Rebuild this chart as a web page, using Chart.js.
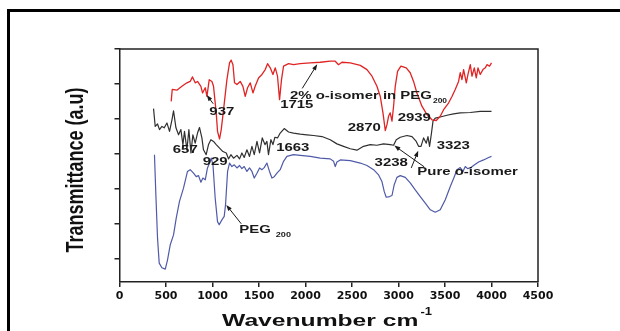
<!DOCTYPE html>
<html>
<head>
<meta charset="utf-8">
<title>FTIR spectra</title>
<script src="https://cdn.jsdelivr.net/npm/chart.js@4.4.1/dist/chart.umd.min.js"></script>
<style>
  html, body { margin: 0; padding: 0; background: #fff; overflow: hidden; }
  #wrap { position: relative; width: 620px; height: 331px; }
  #irChart { display: block; }
</style>
</head>
<body>
<div id="wrap"><canvas id="irChart" width="620" height="331"></canvas></div>
<script>
// 2% o-isomer in PEG200 (red trace)
const mixWn = [556, 567, 617, 671, 725, 760, 785, 814, 839, 875, 893, 922, 940, 965, 994, 1011, 1040, 1054, 1076, 1094,
  1119, 1155, 1183, 1201, 1220, 1237, 1263, 1298, 1327, 1352, 1377, 1406, 1435, 1459, 1495, 1532, 1567, 1592, 1621, 1650,
  1675, 1699, 1721, 1742, 1764, 1818, 1871, 1943, 2051, 2159, 2266, 2320, 2355, 2392, 2481, 2589, 2661, 2715, 2768, 2804,
  2833, 2858, 2876, 2893, 2911, 2930, 2947, 2965, 2990, 3026, 3083, 3126, 3162, 3198, 3252, 3306, 3360, 3406, 3449, 3485,
  3538, 3575, 3610, 3646, 3664, 3682, 3700, 3729, 3747, 3772, 3790, 3815, 3836, 3855, 3879, 3908, 3933, 3951, 3979, 4000];
const mixT = [5.50, 5.84, 5.82, 5.93, 6.03, 6.07, 6.20, 6.03, 6.07, 5.93, 5.74, 5.89, 5.64, 6.12, 6.07, 5.93, 5.17, 4.64, 4.42, 4.69,
  5.26, 6.12, 6.60, 6.68, 6.55, 6.03, 5.98, 6.07, 5.93, 5.64, 5.89, 6.03, 5.74, 5.93, 6.17, 6.27, 6.41, 6.58, 6.46, 6.27,
  6.46, 6.22, 5.55, 6.12, 6.51, 6.58, 6.55, 6.58, 6.60, 6.62, 6.65, 6.65, 6.55, 6.62, 6.60, 6.53, 6.41, 6.22, 5.93, 5.64,
  5.17, 4.66, 4.83, 5.07, 5.17, 4.93, 5.36, 5.93, 6.36, 6.51, 6.46, 6.32, 6.07, 5.74, 5.36, 5.12, 4.97, 4.95, 5.07, 5.26,
  5.45, 5.64, 5.84, 6.07, 6.32, 6.12, 6.41, 6.03, 6.27, 6.55, 6.22, 6.46, 6.17, 6.46, 6.27, 6.41, 6.46, 6.55, 6.51, 6.60];

// pure o-isomer (black trace)
const pureWn = [366, 384, 409, 430, 456, 481, 510, 538, 564, 581, 607, 635, 660, 682, 699, 725, 746, 768, 789, 814,
  839, 860, 886, 903, 932, 957, 983, 1011, 1040, 1076, 1112, 1148, 1172, 1198, 1226, 1263, 1291, 1316, 1341, 1370,
  1398, 1424, 1449, 1478, 1506, 1535, 1564, 1585, 1602, 1628, 1650, 1671, 1699, 1728, 1771, 1818, 1871, 1943, 2015, 2086,
  2177, 2266, 2338, 2409, 2481, 2553, 2624, 2696, 2768, 2839, 2911, 2947, 2976, 3019, 3091, 3145, 3191, 3216, 3242, 3270,
  3299, 3317, 3334, 3352, 3371, 3395, 3449, 3521, 3592, 3664, 3772, 3879, 4000];
const pureT = [5.29, 4.78, 4.85, 4.69, 4.78, 4.74, 4.88, 4.64, 4.97, 5.23, 4.74, 4.54, 4.69, 4.26, 4.64, 4.11, 4.69, 4.02, 4.54, 4.30,
  4.59, 4.75, 4.45, 4.11, 3.97, 4.26, 4.40, 4.35, 4.26, 4.16, 4.06, 4.02, 3.85, 3.97, 3.87, 3.95, 3.85, 4.02, 3.89, 4.11,
  3.92, 4.21, 3.97, 4.35, 4.02, 4.45, 4.26, 4.35, 3.97, 4.40, 4.26, 4.47, 4.45, 4.59, 4.72, 4.62, 4.59, 4.56, 4.54, 4.52,
  4.49, 4.40, 4.28, 4.21, 4.14, 4.10, 4.21, 4.26, 4.24, 4.28, 4.26, 4.24, 4.40, 4.47, 4.52, 4.49, 4.35, 4.21, 4.21, 4.45,
  4.30, 4.49, 4.21, 4.54, 4.93, 5.02, 5.05, 5.10, 5.14, 5.17, 5.18, 5.21, 5.21];

// PEG200 (blue trace)
const pegWn = [376, 391, 409, 427, 456, 492, 516, 545, 581, 610, 645, 688, 731, 760, 796, 825, 850, 875, 897, 922,
  946, 968, 986, 1005, 1029, 1054, 1072, 1101, 1126, 1140, 1162, 1183, 1209, 1234, 1263, 1291, 1316, 1341, 1370, 1398,
  1424, 1449, 1478, 1506, 1532, 1556, 1585, 1613, 1639, 1664, 1693, 1728, 1764, 1800, 1871, 1943, 2051, 2159, 2266, 2302,
  2320, 2338, 2374, 2481, 2589, 2661, 2732, 2786, 2822, 2847, 2868, 2904, 2930, 2954, 2983, 3019, 3073, 3126, 3180, 3234,
  3288, 3342, 3395, 3449, 3503, 3557, 3600, 3629, 3664, 3693, 3718, 3743, 3772, 3807, 3861, 3915, 3969, 4000];
const pegT = [3.97, 2.82, 1.57, 0.86, 0.73, 0.69, 0.95, 1.38, 1.67, 2.15, 2.63, 3.01, 3.49, 3.54, 3.44, 3.34, 3.37, 3.18, 3.30, 3.25,
  3.59, 3.73, 3.87, 3.68, 2.72, 2.05, 1.96, 2.10, 2.20, 2.53, 3.49, 3.73, 3.63, 3.68, 3.59, 3.66, 3.57, 3.63, 3.49, 3.59,
  3.49, 3.30, 3.44, 3.59, 3.54, 3.60, 3.73, 3.49, 3.30, 3.34, 3.44, 3.54, 3.78, 3.92, 3.97, 3.95, 3.92, 3.87, 3.85, 3.78,
  3.63, 3.76, 3.82, 3.80, 3.73, 3.66, 3.54, 3.39, 3.20, 2.91, 2.75, 2.77, 2.80, 3.11, 3.32, 3.37, 3.32, 3.16, 2.96, 2.77,
  2.58, 2.39, 2.32, 2.39, 2.68, 3.06, 3.34, 3.54, 3.60, 3.49, 3.63, 3.57, 3.59, 3.66, 3.76, 3.82, 3.89, 3.92];

const xTicks = [0, 500, 1000, 1500, 2000, 2500, 3000, 3500, 4000, 4500];
const yTicks = [1, 2, 3, 4, 5, 6, 7];

// band labels, placed in wavenumber / transmittance units
const bandLabels = [
  { text: '937', x: 1100, y: 5.21 },
  { text: '1715', x: 1906, y: 5.39 },
  { text: '2870', x: 2632, y: 4.73 },
  { text: '2939', x: 3170, y: 5.03 },
  { text: '657', x: 707, y: 4.11 },
  { text: '929', x: 1029, y: 3.77 },
  { text: '1663', x: 1863, y: 4.17 },
  { text: '3238', x: 2922, y: 3.74 },
  { text: '3323', x: 3589, y: 4.21 }
];

// trace captions (left aligned), optional subscript
const captions = [
  { text: '2% o-isomer in PEG', sub: '200', x: 1832, y: 5.66, subSize: 6.5, gap: 1 },
  { text: 'Pure o-isomer', x: 3202, y: 3.48 },
  { text: 'PEG', sub: '200', x: 1287, y: 1.81, subSize: 7, gap: 5 }
];

// leader arrows: from label towards the band
const arrows = [
  { from: [1008, 5.43], to: [938, 5.68] },
  { from: [1965, 5.87], to: [2126, 6.56] },
  { from: [3277, 3.62], to: [2955, 4.23] },
  { from: [3137, 3.59], to: [3212, 4.08] },
  { from: [1309, 1.99], to: [1148, 2.53] }
];

const TEXT_FONT = '"Liberation Sans", Arial, sans-serif';
const STRETCH = 1.3;

function wideText(ctx, str, x, y, size, sx, align) {
  ctx.save();
  ctx.font = 'bold ' + size + 'px ' + TEXT_FONT;
  ctx.translate(x, y);
  ctx.scale(sx, 1);
  ctx.textAlign = align;
  ctx.textBaseline = 'middle';
  ctx.fillText(str, 0, 0);
  const w = ctx.measureText(str).width * sx;
  ctx.restore();
  return w;
}

function arrow(ctx, x0, y0, x1, y1) {
  const ang = Math.atan2(y1 - y0, x1 - x0);
  const len = 6, half = 2.2;
  ctx.beginPath();
  ctx.moveTo(x0, y0);
  ctx.lineTo(x1 - Math.cos(ang) * len * 0.6, y1 - Math.sin(ang) * len * 0.6);
  ctx.stroke();
  ctx.beginPath();
  ctx.moveTo(x1, y1);
  ctx.lineTo(x1 - Math.cos(ang) * len - Math.sin(ang) * half, y1 - Math.sin(ang) * len + Math.cos(ang) * half);
  ctx.lineTo(x1 - Math.cos(ang) * len + Math.sin(ang) * half, y1 - Math.sin(ang) * len - Math.cos(ang) * half);
  ctx.closePath();
  ctx.fill();
}

const spectrumDecor = {
  id: 'spectrumDecor',
  beforeDraw(chart) {
    const ctx = chart.ctx;
    ctx.save();
    ctx.fillStyle = '#fff';
    ctx.fillRect(0, 0, chart.width, chart.height);
    // outer frame, left and top edges
    ctx.fillStyle = '#000';
    ctx.fillRect(7, 9, 3, chart.height);
    ctx.fillRect(7, 9, chart.width, 3);
    ctx.restore();
  },
  afterDraw(chart) {
    const ctx = chart.ctx;
    const a = chart.chartArea;
    const xs = chart.scales.x, ys = chart.scales.y;

    ctx.save();
    ctx.strokeStyle = '#222';
    ctx.lineWidth = 1.5;
    ctx.beginPath();
    ctx.moveTo(a.left, a.top);
    ctx.lineTo(a.right, a.top);
    ctx.lineTo(a.right, a.bottom);
    ctx.stroke();

    ctx.fillStyle = '#1a1a1a';
    ctx.strokeStyle = '#1a1a1a';
    ctx.lineWidth = 1;
    arrows.forEach(ar => {
      arrow(ctx, xs.getPixelForValue(ar.from[0]), ys.getPixelForValue(ar.from[1]),
        xs.getPixelForValue(ar.to[0]), ys.getPixelForValue(ar.to[1]));
    });

    bandLabels.forEach(l => {
      wideText(ctx, l.text, xs.getPixelForValue(l.x), ys.getPixelForValue(l.y), 11.5, STRETCH, 'center');
    });

    captions.forEach(c => {
      const px = xs.getPixelForValue(c.x), py = ys.getPixelForValue(c.y);
      const w = wideText(ctx, c.text, px, py, 11.5, STRETCH, 'left');
      if (c.sub) {
        wideText(ctx, c.sub, px + w + c.gap, py + 5.5, c.subSize, STRETCH, 'left');
      }
    });

    // axis titles
    ctx.save();
    ctx.translate(a.left - 43, 170);
    ctx.rotate(-Math.PI / 2);
    ctx.scale(1, 1.35);
    ctx.font = 'bold 18px ' + TEXT_FONT;
    ctx.textAlign = 'center';
    ctx.textBaseline = 'middle';
    ctx.fillStyle = '#111';
    ctx.fillText('Transmittance (a.u)', 0, 0);
    ctx.restore();

    ctx.save();
    ctx.font = 'bold 17px ' + TEXT_FONT;
    const mainW = ctx.measureText('Wavenumber cm').width * 1.45;
    ctx.font = 'bold 10px ' + TEXT_FONT;
    const supW = ctx.measureText('-1').width * 1.3;
    ctx.restore();
    const left = 327 - (mainW + supW + 2) / 2;
    ctx.fillStyle = '#111';
    wideText(ctx, 'Wavenumber cm', left, a.bottom + 39, 17, 1.45, 'left');
    wideText(ctx, '-1', left + mainW + 2, a.bottom + 30, 10, 1.3, 'left');

    ctx.restore();
  }
};

const toPoints = (wn, t) => wn.map((w, i) => ({ x: w, y: t[i] }));

const axisLine = { color: '#222', width: 1.5 };
const tickMarks = { drawOnChartArea: false, drawTicks: true, tickLength: 5, color: '#222', lineWidth: 1.5 };

new Chart(document.getElementById('irChart'), {
  type: 'line',
  data: {
    datasets: [
      {
        label: '2% o-isomer in PEG200',
        data: toPoints(mixWn, mixT),
        borderColor: '#e02424',
        borderWidth: 1.3
      },
      {
        label: 'Pure o-isomer',
        data: toPoints(pureWn, pureT),
        borderColor: '#303030',
        borderWidth: 1.2
      },
      {
        label: 'PEG200',
        data: toPoints(pegWn, pegT),
        borderColor: '#4f5aa8',
        borderWidth: 1.2
      }
    ]
  },
  options: {
    responsive: false,
    animation: false,
    elements: {
      point: { radius: 0 },
      line: { tension: 0, fill: false, borderJoinStyle: 'round' }
    },
    layout: { padding: { top: 49, right: 82, left: 0, bottom: 0 } },
    plugins: {
      legend: { display: false },
      tooltip: { enabled: false }
    },
    scales: {
      x: {
        type: 'linear',
        min: 0,
        max: 4500,
        afterBuildTicks: s => { s.ticks = xTicks.map(v => ({ value: v })); },
        afterFit: s => { s.height = 49; },
        ticks: {
          color: '#111',
          padding: 3,
          maxRotation: 0,
          autoSkip: false,
          callback: v => String(v),
          font: { family: 'DejaVu Sans', weight: 'bold', size: 11 }
        },
        grid: tickMarks,
        border: axisLine
      },
      y: {
        type: 'linear',
        min: 0.32,
        max: 7,
        afterBuildTicks: s => { s.ticks = yTicks.map(v => ({ value: v })); },
        afterFit: s => { s.width = 119.5; },
        ticks: { display: false },
        grid: tickMarks,
        border: axisLine
      }
    }
  },
  plugins: [spectrumDecor]
});
</script>
</body>
</html>
